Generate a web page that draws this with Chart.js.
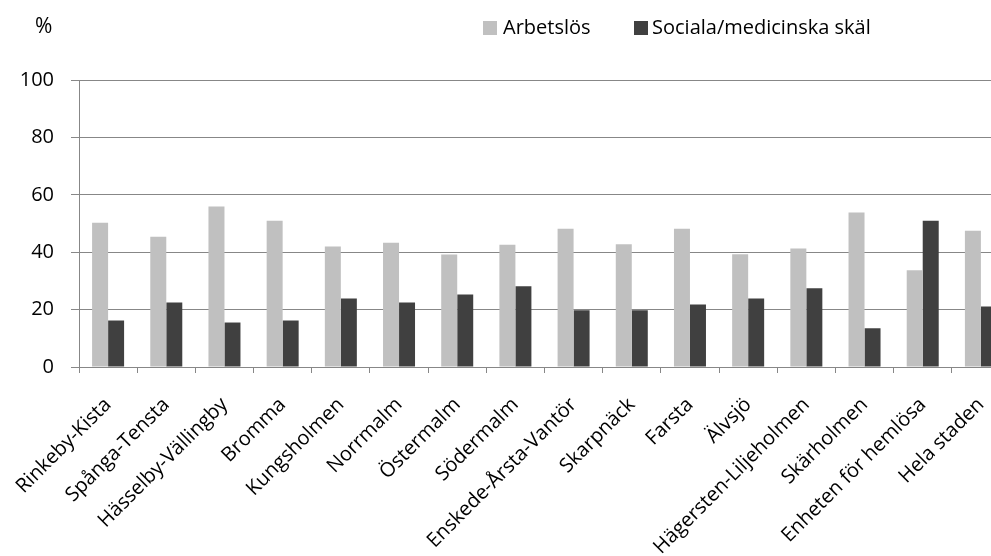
<!DOCTYPE html>
<html>
<head>
<meta charset="utf-8">
<script src="https://cdn.jsdelivr.net/npm/chart.js@4/dist/chart.umd.min.js"></script>
<style>
  html, body { margin: 0; padding: 0; background: #fff; overflow: hidden; }
  #wrap { position: relative; width: 1010px; height: 556px; }
  .txt { position: absolute; font-family: "Open Sans", sans-serif; font-size: 20px; color: #000; line-height: 1; white-space: nowrap; }
  .box { position: absolute; width: 14px; height: 14px; }
</style>
</head>
<body>
<div id="wrap">
  <canvas id="chart" width="1010" height="556"></canvas>
  <div class="txt" style="left:35px; top:15px; font-size:21px;">%</div>
  <div class="box" style="left:483px; top:21px; background:#c0c0c0;"></div>
  <div class="txt" style="left:503px; top:17px;">Arbetslös</div>
  <div class="box" style="left:634px; top:21px; background:#404040;"></div>
  <div class="txt" style="left:652px; top:17px;">Sociala/medicinska skäl</div>
</div>
<script>
const GRID_GREY = "#878787";

const districts = [
    "Rinkeby-Kista", "Spånga-Tensta", "Hässelby-Vällingby", "Bromma",
    "Kungsholmen", "Norrmalm", "Östermalm", "Södermalm",
    "Enskede-Årsta-Vantör", "Skarpnäck", "Farsta", "Älvsjö",
    "Hägersten-Liljeholmen", "Skärholmen", "Enheten för hemlösa", "Hela staden"
];
const arbetslos = [50.3, 45.4, 55.9, 51.0, 42.0, 43.3, 39.2, 42.6, 48.2, 42.8, 48.2, 39.3, 41.3, 53.8, 33.7, 47.5];
const socialaSkal = [16.2, 22.5, 15.5, 16.2, 23.9, 22.5, 25.3, 28.1, 19.8, 19.8, 21.8, 23.9, 27.4, 13.5, 51.0, 21.1];
const yTicks = [0, 20, 40, 60, 80, 100];

new Chart(document.getElementById("chart"), {
    type: "bar",
    data: {
        labels: districts,
        datasets: [
            { label: "Arbetslös", data: arbetslos, backgroundColor: "#c0c0c0" },
            { label: "Sociala/medicinska skäl", data: socialaSkal, backgroundColor: "#404040" }
        ]
    },
    options: {
        responsive: false,
        animation: false,
        layout: { padding: { top: 80, left: 0, right: 0, bottom: 0 } },
        datasets: { bar: { barPercentage: 1, categoryPercentage: 0.55 } },
        plugins: {
            legend: { display: false },
            tooltip: { enabled: false }
        },
        scales: {
            x: {
                grid: { drawOnChartArea: false, drawTicks: true, tickLength: 6, color: GRID_GREY, offset: true },
                border: { color: GRID_GREY, width: 1 },
                ticks: {
                    color: "#000", minRotation: 45, maxRotation: 45, padding: 20,
                    font: { family: "Open Sans", size: 20 }
                },
                afterFit: s => { s.height = 189; s.paddingLeft = 0; s.paddingRight = 0; }
            },
            y: {
                min: 0, max: 100,
                afterBuildTicks: s => { s.ticks = yTicks.map(v => ({ value: v })); },
                grid: { color: GRID_GREY, tickLength: 8 },
                border: { color: GRID_GREY, width: 1 },
                ticks: {
                    color: "#000", padding: 17,
                    font: { family: "Open Sans", size: 20 }
                },
                afterFit: s => { s.width = 79; }
            }
        }
    }
});
</script>
</body>
</html>
